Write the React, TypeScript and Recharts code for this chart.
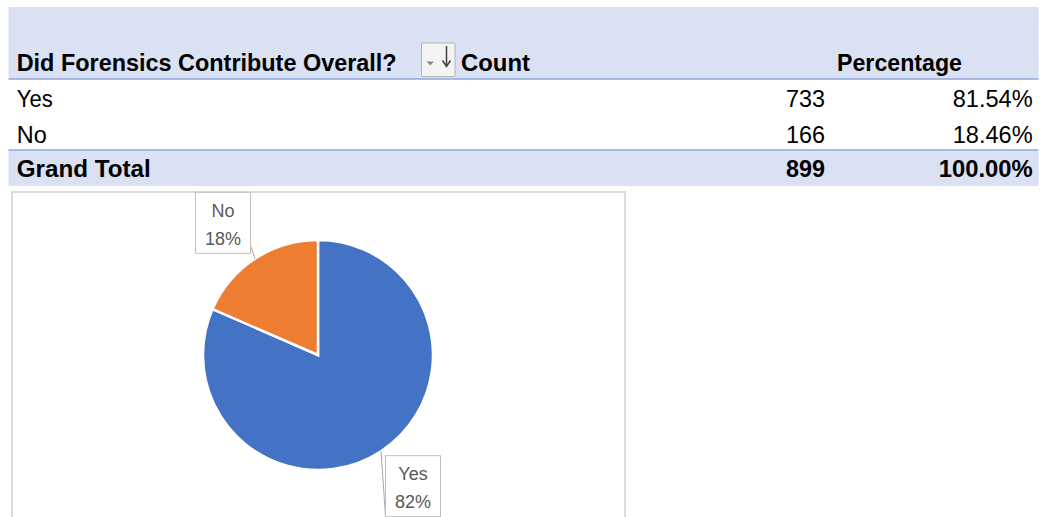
import React from 'react';
import { PieChart, Pie, Cell } from 'recharts';

const categories = ['Yes', 'No'];
const counts = [733, 166];
const percentages = ['81.54%', '18.46%'];
const totalLabel = 'Grand Total';
const totalCount = 899;
const totalPercentage = '100.00%';
const headerLabels = ['Did Forensics Contribute Overall?', 'Count', 'Percentage'];
const sliceColors = ['#4472C4', '#ED7D31'];

const pieData = categories.map((c, i) => ({ name: c, value: counts[i] }));

const FONT = '"Liberation Sans", Arial, sans-serif';
const RAD = Math.PI / 180;

const rowLabelWidths = [36, 30];
const countWidths = [39, 39];
const pctWidths = [80, 80];
const rowBaselines = [107.3, 142.7];

function renderLabel(props: any) {
  const { cx, cy, midAngle, outerRadius, percent, index, name } = props;
  const cos = Math.cos(-midAngle * RAD);
  const sin = Math.sin(-midAngle * RAD);
  const ex = cx + outerRadius * cos;
  const ey = cy + outerRadius * sin;
  const left = cos < 0;
  const bx = ex + (left ? -32 : 32);
  const by = ey + (sin < 0 ? -36 : 35);
  const w = 55;
  const h = 61;
  const lx2 = left ? bx + w / 2 : bx - w / 2;
  const ly2 = left ? by + 22.5 : by + h / 2;
  const pctText = Math.round(percent * 100) + '%';
  return (
    <g key={'lbl' + index}>
      <line x1={ex} y1={ey} x2={lx2} y2={ly2} stroke="#A6A6A6" strokeWidth={1} />
      <rect x={bx - w / 2} y={by - h / 2} width={w} height={h} fill="#FFFFFF" stroke="#BFBFBF" strokeWidth={1} />
      <text x={bx} y={by - 6} textAnchor="middle" fontFamily={FONT} fontSize={18} fill="#595959">{name}</text>
      <text x={bx} y={by + 22} textAnchor="middle" fontFamily={FONT} fontSize={18} fill="#595959">{pctText}</text>
    </g>
  );
}

function Table() {
  return (
    <svg width={1044} height={190} style={{ position: 'absolute', left: 0, top: 0 }}>
      <rect x={8.5} y={7} width={1030} height={72} fill="#D9E1F2" />
      <rect x={8.5} y={150} width={1030} height={36} fill="#D9E1F2" />
      <line x1={8.5} y1={79} x2={1038.5} y2={79} stroke="#8EA9DB" strokeWidth={1.5} />
      <line x1={8.5} y1={150} x2={1038.5} y2={150} stroke="#8EA9DB" strokeWidth={1.5} />
      <g fontFamily={FONT} fontSize={23} fill="#000000">
        <text x={16.7} y={71} fontWeight="bold" textLength={380} lengthAdjust="spacingAndGlyphs">{headerLabels[0]}</text>
        <text x={461} y={71} fontWeight="bold" textLength={69} lengthAdjust="spacingAndGlyphs">{headerLabels[1]}</text>
        <text x={837} y={71} fontWeight="bold" textLength={125} lengthAdjust="spacingAndGlyphs">{headerLabels[2]}</text>
        {categories.map((c, i) => (
          <g key={c}>
            <text x={16.7} y={rowBaselines[i]} textLength={rowLabelWidths[i]} lengthAdjust="spacingAndGlyphs">{c}</text>
            <text x={825} y={rowBaselines[i]} textAnchor="end" textLength={countWidths[i]} lengthAdjust="spacingAndGlyphs">{counts[i]}</text>
            <text x={1032.7} y={rowBaselines[i]} textAnchor="end" textLength={pctWidths[i]} lengthAdjust="spacingAndGlyphs">{percentages[i]}</text>
          </g>
        ))}
        <text x={16.7} y={177.3} fontWeight="bold" textLength={134} lengthAdjust="spacingAndGlyphs">{totalLabel}</text>
        <text x={825} y={177.3} fontWeight="bold" textAnchor="end" textLength={39} lengthAdjust="spacingAndGlyphs">{totalCount}</text>
        <text x={1032.7} y={177.3} fontWeight="bold" textAnchor="end" textLength={94} lengthAdjust="spacingAndGlyphs">{totalPercentage}</text>
      </g>
      <rect x={421.5} y={43} width={33.5} height={33.5} fill="#F4F4F4" stroke="#B4B4B4" strokeWidth={1} rx={1} />
      <path d="M426.5 61.5 L434 61.5 L430.25 65.5 Z" fill="#8A8A8A" />
      <line x1={446.5} y1={46} x2={446.5} y2={66} stroke="#404040" strokeWidth={1.5} />
      <path d="M442.5 60.5 L446.5 66.5 L450.5 60.5" fill="none" stroke="#404040" strokeWidth={1.5} />
    </svg>
  );
}

export default function App() {
  return (
    <div style={{ position: 'absolute', left: 0, top: 0, width: 1044, height: 517, overflow: 'hidden', background: '#FFFFFF' }}>
      <Table />
      <div
        style={{
          position: 'absolute',
          left: 10.5,
          top: 190.5,
          width: 615,
          height: 360,
          border: '2px solid #DCDCDC',
          boxSizing: 'border-box',
          background: '#FFFFFF',
        }}
      />
      <div style={{ position: 'absolute', left: 11, top: 191 }}>
        <PieChart width={614} height={326} margin={{ top: 0, right: 0, bottom: 0, left: 0 }}>
          <Pie
            data={pieData}
            dataKey="value"
            nameKey="name"
            cx={307}
            cy={164}
            outerRadius={115}
            startAngle={90}
            endAngle={-270}
            stroke="#FFFFFF"
            strokeWidth={2.5}
            label={renderLabel}
            labelLine={false}
            isAnimationActive={false}
          >
            {pieData.map((d, i) => (
              <Cell key={d.name} fill={sliceColors[i]} />
            ))}
          </Pie>
        </PieChart>
      </div>
    </div>
  );
}
